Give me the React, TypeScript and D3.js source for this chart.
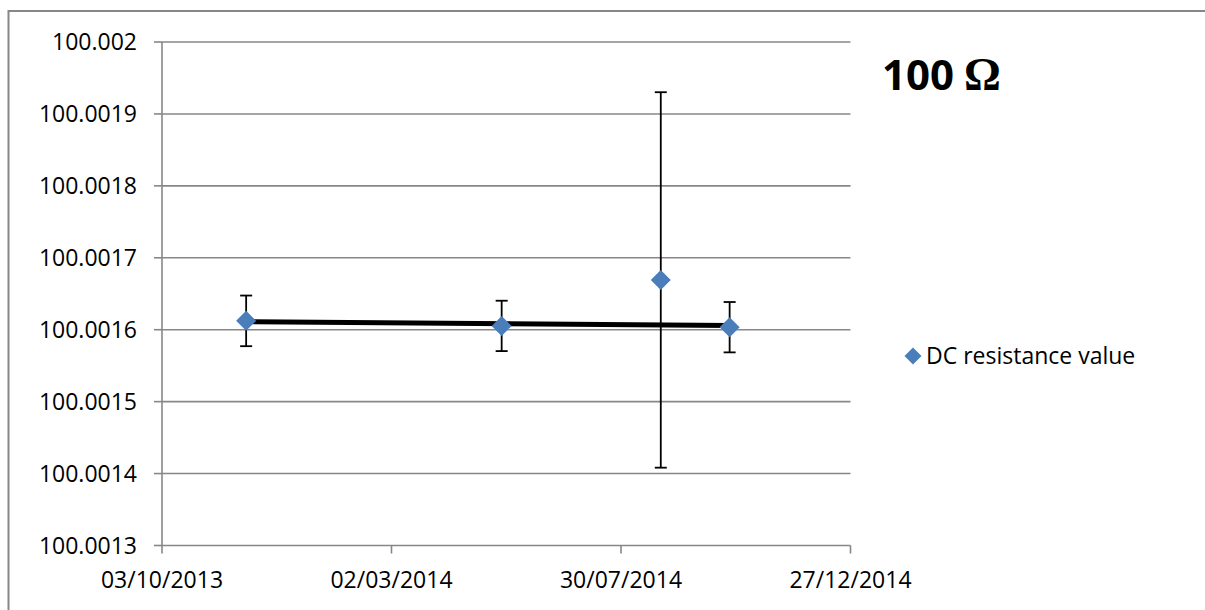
import React from "react";
import * as d3 from "d3";

const seriesName = "DC resistance value";
const titleNumber = "100";
const titleUnit = "Ω";
const measureDates = ["2013-11-27", "2014-05-13", "2014-08-25", "2014-10-09"];
const measureValues = [100.0016123, 100.0016053, 100.0016692, 100.0016035];
const measureErrors = [0.0000352, 0.000035, 0.000261, 0.000035];
const trendDates = ["2013-11-27", "2014-10-09"];
const trendValues = [100.0016113, 100.0016057];
const xTickDates = ["2013-10-03", "2014-03-02", "2014-07-30", "2014-12-27"];
const yTicks = [100.0013, 100.0014, 100.0015, 100.0016, 100.0017, 100.0018, 100.0019, 100.002];
const yLabels = ["100.0013", "100.0014", "100.0015", "100.0016", "100.0017", "100.0018", "100.0019", "100.002"];

const parse = d3.utcParse("%Y-%m-%d");
const fmt = d3.utcFormat("%d/%m/%Y");

const FONT = "'Open Sans', 'Liberation Sans', sans-serif";
const GRID = "#878787";
const BLUE = "#4A7EBB";

export default function App() {
  const x = d3
    .scaleUtc()
    .domain([parse(xTickDates[0])!, parse(xTickDates[xTickDates.length - 1])!])
    .range([162, 850.5]);
  const y = d3.scaleLinear().domain([100.0013, 100.002]).range([545.5, 42]);

  const points = measureDates.map((d, i) => ({
    date: parse(d)!,
    value: measureValues[i],
    err: measureErrors[i],
  }));
  const trend = trendDates.map((d, i) => ({ date: parse(d)!, value: trendValues[i] }));
  const line = d3
    .line<{ date: Date; value: number }>()
    .x((d) => x(d.date))
    .y((d) => y(d.value));

  const diamond = (cx: number, cy: number, r: number) =>
    `M${cx},${cy - r}L${cx + r},${cy}L${cx},${cy + r}L${cx - r},${cy}Z`;

  const x0 = x.range()[0];
  const x1 = x.range()[1];
  const yBottom = y.range()[0];

  return (
    <svg
      width={1205}
      height={610}
      style={{ position: "absolute", left: 0, top: 0, background: "#fff" }}
    >
      <rect x={0} y={0} width={1205} height={610} fill="#fff" />
      <rect x={8.5} y={11} width={1400} height={800} fill="none" stroke={GRID} strokeWidth={2} />

      {yTicks.map((t, i) => (
        <g key={i}>
          <line x1={x0} x2={x1} y1={y(t)} y2={y(t)} stroke={GRID} strokeWidth={1.6} />
          <line x1={154} x2={x0} y1={y(t)} y2={y(t)} stroke={GRID} strokeWidth={1.6} />
          <text
            x={137}
            y={y(t)}
            dy="0.36em"
            textAnchor="end"
            fontFamily={FONT}
            fontSize={23}
            fill="#000"
          >
            {yLabels[i]}
          </text>
        </g>
      ))}

      <line x1={x0} x2={x0} y1={y.range()[1]} y2={yBottom} stroke={GRID} strokeWidth={1.6} />

      {xTickDates.map((d, i) => {
        const px = x(parse(d)!);
        return (
          <g key={i}>
            <line x1={px} x2={px} y1={yBottom} y2={yBottom + 8} stroke={GRID} strokeWidth={1.6} />
            <text
              x={px}
              y={588}
              textAnchor="middle"
              fontFamily={FONT}
              fontSize={23}
              fill="#000"
            >
              {fmt(parse(d)!)}
            </text>
          </g>
        );
      })}

      {points.map((p, i) => {
        const px = x(p.date);
        const yt = y(p.value + p.err);
        const yb = y(p.value - p.err);
        return (
          <g key={i} stroke="#000" strokeWidth={1.8}>
            <line x1={px} x2={px} y1={yt} y2={yb} />
            <line x1={px - 6} x2={px + 6} y1={yt} y2={yt} />
            <line x1={px - 6} x2={px + 6} y1={yb} y2={yb} />
          </g>
        );
      })}

      <path d={line(trend) || ""} fill="none" stroke="#000" strokeWidth={5} />

      {points.map((p, i) => (
        <path key={i} d={diamond(x(p.date), y(p.value), 10)} fill={BLUE} />
      ))}

      <text x={882} y={90} fontFamily={FONT} fontWeight="bold" fontSize={42} fill="#000">
        {titleNumber}
        <tspan fontFamily="'Liberation Serif', 'DejaVu Serif', serif" fontSize={46} dx={10}>
          {titleUnit}
        </tspan>
      </text>

      <path d={diamond(913, 356, 8.5)} fill={BLUE} />
      <text x={926} y={356} dy="0.36em" fontFamily={FONT} fontSize={23} fill="#000">
        {seriesName}
      </text>
    </svg>
  );
}
